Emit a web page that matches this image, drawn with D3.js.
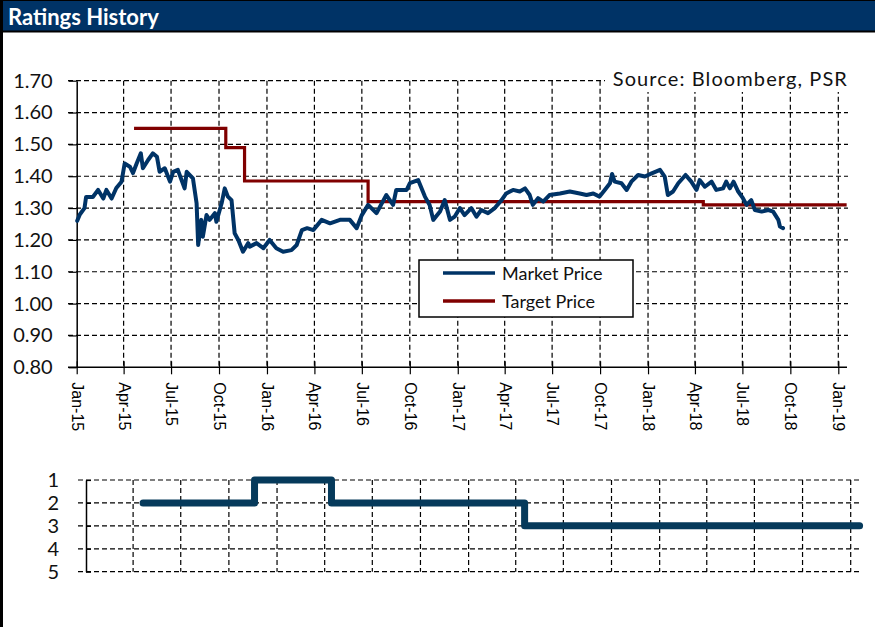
<!DOCTYPE html>
<html>
<head>
<meta charset="utf-8">
<script src="https://cdn.jsdelivr.net/npm/d3@7"></script>
<style>
body{margin:0;background:#fff;}
svg{display:block;}
</style>
</head>
<body>
<svg id="chart" width="875" height="627"></svg>
<script>
var marketDates = ['2015-01-02','2015-01-07','2015-01-16','2015-01-19','2015-02-01','2015-02-11','2015-02-21','2015-02-27','2015-03-09','2015-03-18',
	'2015-03-28','2015-04-03','2015-04-13','2015-04-19','2015-04-26','2015-05-04','2015-05-08','2015-05-18','2015-05-27','2015-06-04',
	'2015-06-09','2015-06-19','2015-06-29','2015-07-05','2015-07-14','2015-07-27','2015-07-31','2015-08-12','2015-08-19','2015-08-22',
	'2015-08-28','2015-08-31','2015-09-07','2015-09-13','2015-09-23','2015-09-26','2015-10-06','2015-10-12','2015-10-18','2015-10-25',
	'2015-10-31','2015-11-07','2015-11-16','2015-11-26','2015-11-29','2015-12-12','2015-12-25','2016-01-06','2016-01-19','2016-02-01',
	'2016-02-17','2016-02-27','2016-03-08','2016-03-18','2016-03-30','2016-04-15','2016-05-01','2016-05-20','2016-06-08','2016-06-21',
	'2016-07-01','2016-07-13','2016-07-29','2016-08-17','2016-08-30','2016-09-05','2016-09-25','2016-10-01','2016-10-17','2016-10-30',
	'2016-11-08','2016-11-15','2016-11-28','2016-12-07','2016-12-17','2016-12-26','2017-01-05','2017-01-14','2017-01-27','2017-02-06',
	'2017-02-15','2017-02-28','2017-03-13','2017-03-26','2017-04-04','2017-04-17','2017-04-30','2017-05-10','2017-05-19','2017-05-25',
	'2017-06-04','2017-06-14','2017-06-26','2017-07-16','2017-08-04','2017-08-23','2017-09-05','2017-09-18','2017-09-30','2017-10-10',
	'2017-10-20','2017-10-24','2017-10-29','2017-11-11','2017-11-21','2017-11-30','2017-12-13','2017-12-26','2018-01-08','2018-01-24',
	'2018-02-02','2018-02-08','2018-02-18','2018-02-28','2018-03-14','2018-03-25','2018-04-04','2018-04-10','2018-04-20','2018-05-03',
	'2018-05-12','2018-05-25','2018-05-31','2018-06-07','2018-06-14','2018-06-23','2018-07-02','2018-07-09','2018-07-18','2018-07-25',
	'2018-08-07','2018-08-20','2018-08-29','2018-09-08','2018-09-11','2018-09-17'];
var marketPrices = [1.26,1.28,1.30,1.335,1.335,1.357,1.33,1.357,1.33,1.363,
	1.383,1.44,1.43,1.41,1.44,1.472,1.425,1.451,1.472,1.461,
	1.414,1.425,1.383,1.414,1.42,1.362,1.414,1.393,1.315,1.184,
	1.263,1.21,1.278,1.263,1.284,1.257,1.315,1.362,1.336,1.325,
	1.221,1.20,1.163,1.19,1.179,1.19,1.174,1.20,1.174,1.163,
	1.168,1.184,1.231,1.237,1.231,1.263,1.252,1.263,1.263,1.237,
	1.278,1.31,1.284,1.341,1.31,1.357,1.357,1.378,1.388,1.336,
	1.31,1.263,1.289,1.325,1.263,1.273,1.30,1.278,1.30,1.273,
	1.294,1.284,1.30,1.325,1.346,1.357,1.352,1.362,1.341,1.31,
	1.331,1.32,1.341,1.346,1.352,1.346,1.341,1.346,1.336,1.357,
	1.378,1.407,1.383,1.378,1.357,1.383,1.404,1.399,1.409,1.42,
	1.399,1.341,1.352,1.378,1.404,1.383,1.357,1.388,1.367,1.383,
	1.357,1.362,1.383,1.362,1.383,1.352,1.331,1.31,1.325,1.294,
	1.289,1.294,1.289,1.263,1.242,1.237];
var targetDates = ['2015-04-21','2015-10-14','2015-11-19','2016-07-13','2018-04-17','2019-01-17'];
var targetPrices = [1.55,1.49,1.385,1.32,1.31,1.31];
var ratingDates = ['2015-04-20','2015-11-19','2016-04-14','2017-04-18','2019-01-18'];
var ratingValues = [2,1,2,3,3];
var priceTicks = [0.8,0.9,1.0,1.1,1.2,1.3,1.4,1.5,1.6,1.7];
var ratingTicks = [1,2,3,4,5];
var seriesNames = ['Market Price','Target Price'];

var parse = d3.timeParse('%Y-%m-%d');
var svg = d3.select('#chart');
var labelFont = "Lato, 'Open Sans', sans-serif";

//header
svg.append('rect').attr('x',0).attr('y',0).attr('width',875).attr('height',31).attr('fill','#003366');
svg.append('line').attr('x1',0).attr('x2',875).attr('y1',0.5).attr('y2',0.5).attr('stroke','#000').attr('stroke-width',1);
svg.append('line').attr('x1',0).attr('x2',875).attr('y1',31.5).attr('y2',31.5).attr('stroke','#000').attr('stroke-width',2);
svg.append('line').attr('x1',1.5).attr('x2',1.5).attr('y1',0).attr('y2',627).attr('stroke','#000').attr('stroke-width',3);
svg.append('text').attr('x',8).attr('y',25).text('Ratings History')
	.attr('fill','#fff').style('font-family',labelFont).style('font-weight','bold').style('font-size','22px');

//price chart
var x = d3.scaleTime().domain([parse('2015-01-01'), parse('2019-01-01')]).range([76.7, 838.3]);
var y = d3.scaleLinear().domain([0.8, 1.7]).range([367.3, 80.7]);
var quarters = x.ticks(d3.timeMonth.every(3));

var priceChart = svg.append('g');
priceChart.selectAll('line.hgrid')
	.data(priceTicks.slice(1))
  .enter().append('line')
	.attr('class','hgrid')
	.attr('x1',68).attr('x2',848)
	.attr('y1',function(d){ return y(d); })
	.attr('y2',function(d){ return y(d); })
	.attr('stroke','#000').attr('stroke-width',1.2).attr('stroke-dasharray','5,3');
priceChart.selectAll('line.vgrid')
	.data(quarters.slice(1))
  .enter().append('line')
	.attr('class','vgrid')
	.attr('x1',function(d){ return x(d); })
	.attr('x2',function(d){ return x(d); })
	.attr('y1',y(1.7)).attr('y2',y(0.8))
	.attr('stroke','#000').attr('stroke-width',1.2).attr('stroke-dasharray','5,3');

var yAxis = priceChart.append('g')
	.attr('transform','translate(' + x.range()[0] + ',0)')
	.call(d3.axisLeft(y).tickValues(priceTicks).tickSize(8).tickSizeOuter(0).tickPadding(16).tickFormat(d3.format('.2f')));
yAxis.select('.domain').attr('stroke-width',1.5);
yAxis.selectAll('.tick line').attr('stroke-width',1.2);
yAxis.selectAll('.tick text').style('font-family',labelFont).style('font-size','20px').attr('fill','#111');

var xAxis = priceChart.append('g')
	.attr('transform','translate(0,' + y(0.8) + ')')
	.call(d3.axisBottom(x).tickValues(quarters).tickSize(7).tickSizeOuter(0).tickFormat(d3.timeFormat('%b-%y')));
xAxis.select('.domain').remove();
xAxis.append('line').attr('x1',68).attr('x2',847).attr('stroke','#000').attr('stroke-width',1.5);
xAxis.selectAll('.tick line').attr('y1',-6).attr('y2',7).attr('stroke-width',1.2);
xAxis.selectAll('.tick text')
	.attr('transform','rotate(90)')
	.attr('x',15).attr('y',0).attr('dy','0.35em')
	.style('text-anchor','start')
	.style('font-family',"'Liberation Sans', Arial, sans-serif").style('font-size','16px').attr('fill','#000');

var market = marketDates.map(function(d,i){ return {date: parse(d), value: marketPrices[i]}; });
var target = targetDates.map(function(d,i){ return {date: parse(d), value: targetPrices[i]}; });

var priceLine = d3.line()
	.x(function(d){ return x(d.date); })
	.y(function(d){ return y(d.value); });

priceChart.append('path').datum(target)
	.attr('d', priceLine.curve(d3.curveStepAfter))
	.attr('fill','none').attr('stroke','#800000').attr('stroke-width',3.2);
priceChart.append('path').datum(market)
	.attr('d', priceLine.curve(d3.curveLinear))
	.attr('fill','none').attr('stroke','#003366').attr('stroke-width',4)
	.attr('stroke-linejoin','round').attr('stroke-linecap','round');

//source
priceChart.append('rect').attr('x',605).attr('y',64).attr('width',250).attr('height',28).attr('fill','#fff');
priceChart.append('text').attr('x',848).attr('y',86).text('Source: Bloomberg, PSR')
	.style('text-anchor','end').style('font-family',labelFont).style('font-size','20px')
	.style('letter-spacing','1.1px').attr('fill','#111');

//legend
var legend = priceChart.append('g').attr('transform','translate(419,260)');
legend.append('rect').attr('width',214).attr('height',57).attr('fill','#fff').attr('stroke','#000').attr('stroke-width',1.5);
legend.selectAll('line')
	.data(seriesNames)
  .enter().append('line')
	.attr('x1',24).attr('x2',76)
	.attr('y1',function(d,i){ return 13 + i*28; })
	.attr('y2',function(d,i){ return 13 + i*28; })
	.attr('stroke',function(d,i){ return i == 0 ? '#003366' : '#800000'; })
	.attr('stroke-width',3.5);
legend.selectAll('text')
	.data(seriesNames)
  .enter().append('text')
	.attr('x',83)
	.attr('y',function(d,i){ return 20 + i*28; })
	.text(function(d){ return d; })
	.style('font-family',labelFont).style('font-size','18px').attr('fill','#111');

//rating chart
var x2 = d3.scaleTime().domain([parse('2015-01-01'), parse('2019-01-01')]).range([86, 850.7]);
var y2 = d3.scaleLinear().domain([1, 5]).range([480, 571.7]);
var quarters2 = x2.ticks(d3.timeMonth.every(3));
var ratingChart = svg.append('g');

ratingChart.selectAll('line.hgrid')
	.data(ratingTicks)
  .enter().append('line')
	.attr('class','hgrid')
	.attr('x1',78).attr('x2',860)
	.attr('y1',function(d){ return y2(d); })
	.attr('y2',function(d){ return y2(d); })
	.attr('stroke','#000').attr('stroke-width',1.2).attr('stroke-dasharray','5,3');
ratingChart.selectAll('line.vgrid')
	.data(quarters2.slice(1))
  .enter().append('line')
	.attr('class','vgrid')
	.attr('x1',function(d){ return x2(d); })
	.attr('x2',function(d){ return x2(d); })
	.attr('y1',y2(1)).attr('y2',y2(5))
	.attr('stroke','#000').attr('stroke-width',1.2).attr('stroke-dasharray','5,3');

var rAxis = ratingChart.append('g')
	.attr('transform','translate(' + x2.range()[0] + ',0)')
	.call(d3.axisLeft(y2).tickValues(ratingTicks).tickSize(5).tickSizeOuter(0).tickPadding(22).tickFormat(d3.format('d')));
rAxis.select('.domain').attr('stroke-width',1.5);
rAxis.selectAll('.tick line').attr('x2',5).attr('stroke-width',1.2);
rAxis.selectAll('.tick text').style('font-family',labelFont).style('font-size','20px').attr('fill','#111');

var rating = ratingDates.map(function(d,i){ return {date: parse(d), value: ratingValues[i]}; });
ratingChart.append('path').datum(rating)
	.attr('d', d3.line().curve(d3.curveStepAfter)
		.x(function(d){ return x2(d.date); })
		.y(function(d){ return y2(d.value); }))
	.attr('fill','none').attr('stroke','#063a5b').attr('stroke-width',7)
	.attr('stroke-linejoin','round').attr('stroke-linecap','round');
</script>
</body>
</html>
